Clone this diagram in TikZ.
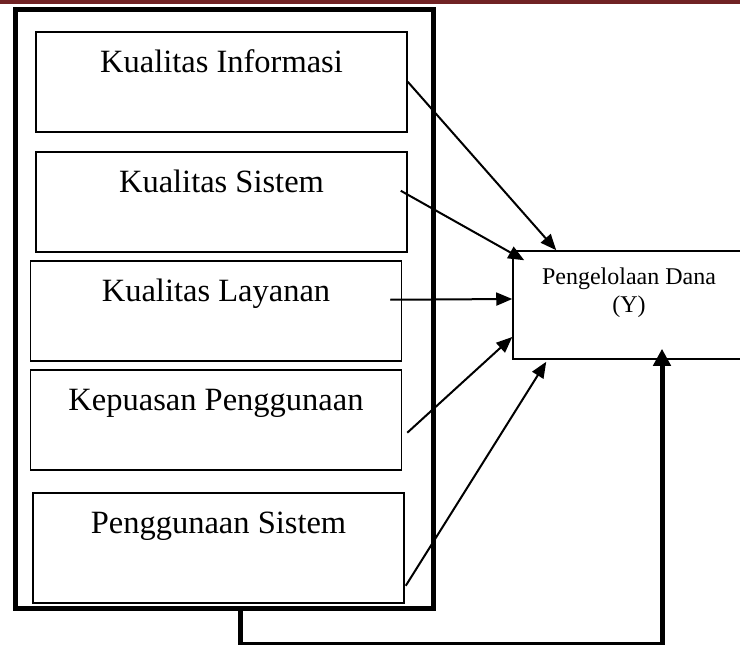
\documentclass[tikz,border=0pt]{standalone}
\usepackage{fontspec}
\setmainfont{Liberation Serif}
\usetikzlibrary{arrows.meta,positioning}
\definecolor{headerred}{RGB}{112,34,36}

\begin{document}
\begin{tikzpicture}[x=1pt,y=-1pt,line width=1.5pt,>={Triangle[length=16pt,width=13pt]}]
\tikzset{
  varbox/.style={draw,line width=1.5pt,minimum width=371pt,inner xsep=0pt,inner ysep=19pt,
    text height=22pt,anchor=north,font=\fontsize{32.5pt}{39pt}\selectfont},
  groupbox/.style={draw,line width=5pt,minimum width=417.5pt,minimum height=599pt,inner sep=0pt},
  ybox/.style={draw,line width=1.5pt,minimum width=232pt,minimum height=108pt,inner sep=0pt},
  ylabel/.style={align=center,inner sep=0pt,font=\fontsize{24pt}{28pt}\selectfont},
  link/.style={->,line width=2pt},
  feedback/.style={-{Triangle[length=17pt,width=17pt]},line width=5pt}
}
\useasboundingbox (0,0) rectangle (740,645);
% ---------- header rule ----------
\fill[headerred] (0,0) rectangle (740,3.5);
% ---------- outer group ----------
\node[groupbox] (group) at (224.25,308.5) {};
% ---------- independent variables ----------
\foreach \nm/\cx/\top/\dep/\lab in {ki/221.5/31/40/{Kualitas Informasi},
    ks/221.5/151/40/{Kualitas Sistem},kl/216/260/40/{Kualitas Layanan},
    kp/216/369/40/{Kepuasan Penggunaan},ps/218.5/492/50/{Penggunaan Sistem}}{
  \node[varbox,text depth=\dep pt] (\nm) at (\cx,\top) {\lab};
}
% ---------- dependent variable ----------
\node[ybox] (dana) at (629,305) {};
\node[ylabel,below=17pt of dana.north] (danatext) {Pengelolaan Dana\\(Y)};
% ---------- arrows into Y ----------
\draw[link] (ki.east) -- ([xshift=44pt]dana.north west);
\draw[link] ([xshift=-7pt,yshift=11pt]ks.east) -- ([xshift=12pt,yshift=-10pt]dana.north west);
\draw[link] ([xshift=-12pt,yshift=11pt]kl.east) -- ([yshift=6pt]dana.west);
\draw[link] ([xshift=5pt,yshift=-13pt]kp.east) -- ([yshift=-32pt]dana.west);
\draw[link] ([xshift=1pt,yshift=-38pt]ps.east) -- ([xshift=34pt,yshift=-2pt]dana.south west);
% ---------- joint effect of the group ----------
\draw[feedback] ([xshift=15.75pt]group.south) -- ++(0,34) -| ([xshift=33pt,yshift=11pt]dana.south);
\end{tikzpicture}
\end{document}
